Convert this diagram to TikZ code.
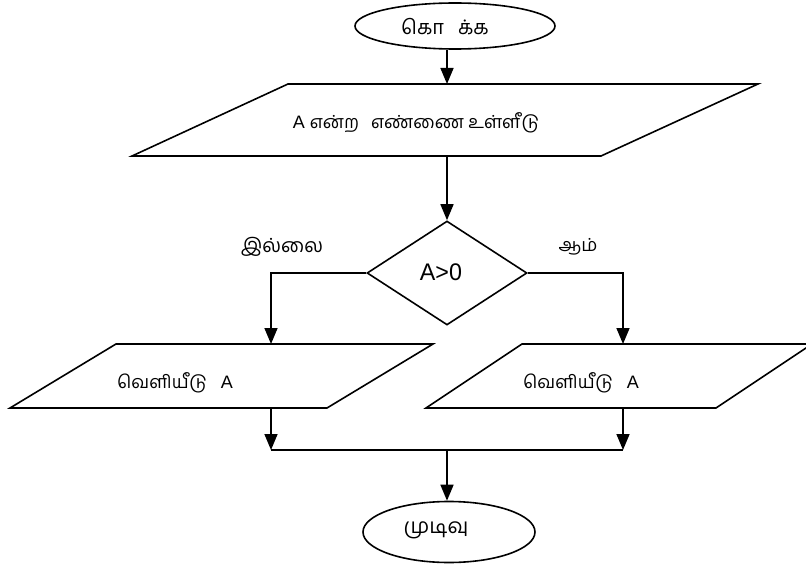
\documentclass[tikz,border=0pt]{standalone}
\usepackage{fontspec}
\setmainfont{Liberation Sans}
\newfontfamily\ta[Script=Tamil]{Hind Madurai}
\usetikzlibrary{shapes.geometric,arrows.meta}
\begin{document}
\begin{tikzpicture}[x=1pt,y=-1pt,
  line width=1.6pt, line join=miter,
  arr/.style={-{Triangle[length=16pt,width=13pt]}},
  txt/.style={inner sep=0pt, font=\fontsize{18}{20}\selectfont},
  term/.style={ellipse, draw, inner sep=0pt},
]
\useasboundingbox (0,0) rectangle (806,567);
\clip (0,0) rectangle (806,567);

% start
\node[term, minimum width=200pt, minimum height=46pt] (start) at (455,26) {};
\node[txt] (starttxt) at (445,27) {{\fontsize{20}{22}\selectfont\ta கொ\hspace{14pt}க்க}};

% input parallelogram
\coordinate (p1n) at (447,84);
\coordinate (p1s) at (447,156);
\draw (132,156) -- (601,156) -- (758,84) -- (288,84) -- cycle;
\node[txt] (p1txt) at (416,123) {A {\ta என்ற\hspace{12pt}எண்ணை உள்ளீடு}};

% decision
\node[diamond, draw, minimum width=160pt, minimum height=104pt, inner sep=0pt] (dia) at (447,273) {};
\node[inner sep=0pt, font=\fontsize{24}{26}\selectfont] (diatxt) at (441,272) {\scalebox{0.97}[1]{A>0}};

% labels
\node[txt] (no) at (282,247) {{\fontsize{19.5}{22}\selectfont\ta இல்லை}};
\node[txt] (yes) at (578,247) {{\ta ஆம்}};

% output parallelograms
\coordinate (p2n) at (271,344);
\coordinate (p2s) at (271,408);
\draw (10,408) -- (327,408) -- (433,344) -- (116,344) -- cycle;
\node[txt] (p2txt) at (175,383) {{\ta வெளியீடு}\hspace{14pt}A};

\coordinate (p3n) at (623,344);
\coordinate (p3s) at (623,408);
\draw (426,408) -- (716,408) -- (812,344) -- (522,344) -- cycle;
\node[txt] (p3txt) at (581,383) {{\ta வெளியீடு}\hspace{14pt}A};

% end
\node[term, minimum width=172pt, minimum height=61pt] (end) at (449,532) {};
\node[txt] (endtxt) at (436,530) {{\fontsize{21}{23}\selectfont\ta முடிவு}};

% junctions
\coordinate (lc) at (271,273);
\coordinate (rc) at (623,273);
\coordinate (j1) at (271,450);
\coordinate (j2) at (623,450);
\coordinate (jm) at (447,450);

% connectors
\draw[arr] (start.south -| p1n) -- (p1n);
\draw[arr] (p1s) -- (dia.north);
\draw[arr] (dia.west) -- (lc) -- (p2n);
\draw[arr] (dia.east) -- (rc) -- (p3n);
\draw[arr] (p2s) -- (j1);
\draw[arr] (p3s) -- (j2);
\draw (j1) -- (j2);
\draw[arr] (jm) -- (end.north -| jm);
\end{tikzpicture}
\end{document}
